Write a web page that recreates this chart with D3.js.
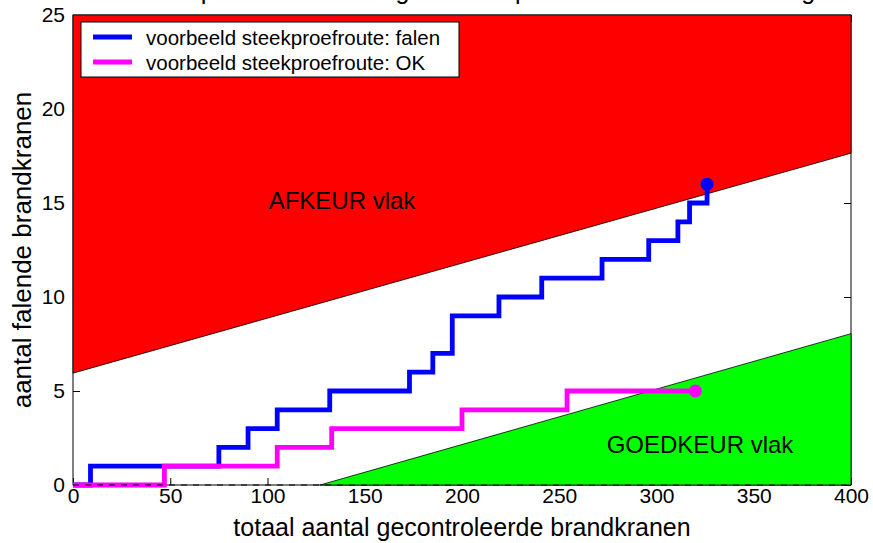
<!DOCTYPE html>
<html><head><meta charset="utf-8">
<script src="https://cdn.jsdelivr.net/npm/d3@7"></script>
<style>
body{margin:0;background:#fff}
svg{display:block}
text{font-family:"Liberation Sans",Arial,Helvetica,sans-serif;fill:#000}
</style></head>
<body><svg id="c" width="873" height="543"></svg>
<script>
// ---- data ----
const xTicks = [0, 50, 100, 150, 200, 250, 300, 350, 400];
const yTicks = [0, 5, 10, 15, 20, 25];
const rejectLine = [[0, 5.95], [400, 17.65]];   // AFKEUR boundary
const acceptLine = [[127, 0], [400, 8.05]];     // GOEDKEUR boundary
const failN = [0, 9, 75, 90, 105, 132, 173, 185, 195, 219, 241, 272, 296, 311, 317, 326];
const failD = [0, 1, 2, 3, 4, 5, 6, 7, 9, 10, 11, 12, 13, 14, 15, 16];
const okN = [0, 47, 105, 133, 200, 254, 320];
const okD = [0, 1, 2, 3, 4, 5, 5];
const seriesNames = ["voorbeeld steekproefroute: falen", "voorbeeld steekproefroute: OK"];
const titleText = "Sequentiële uitvoering via steekproef: brandkranen keuring";
const xLabel = "totaal aantal gecontroleerde brandkranen";
const yLabel = "aantal falende brandkranen";

// ---- layout ----
const L = 73, R = 851, T = 15, B = 485;
const svg = d3.select("#c");
const x = d3.scaleLinear().domain([0, 400]).range([L, R]);
const y = d3.scaleLinear().domain([0, 25]).range([B, T]);
const FONT = "Liberation Sans, Arial, sans-serif";

// title (cut off at the top edge, only descenders visible)
svg.append("text").attr("x", 162).attr("y", -1).attr("text-anchor", "start")
  .style("font-size", "25px").text(titleText);

// axes box
const g = svg.append("g");
g.append("rect").attr("x", L).attr("y", T).attr("width", R - L).attr("height", B - T)
  .attr("fill", "#fff").attr("stroke", "#000").attr("stroke-width", 1);

// inward ticks all four sides
const tl = 7;
g.append("g").attr("transform", `translate(0,${B})`)
  .call(d3.axisBottom(x).tickValues(xTicks).tickSizeInner(-tl).tickSizeOuter(0).tickPadding(3))
  .call(a => { a.select(".domain").remove(); a.selectAll("text").style("font-size", "21px").style("font-family", FONT); });
g.append("g").attr("transform", `translate(0,${T})`)
  .call(d3.axisTop(x).tickValues(xTicks).tickSizeInner(-tl).tickSizeOuter(0).tickFormat(""))
  .call(a => a.select(".domain").remove());
g.append("g").attr("transform", `translate(${L},0)`)
  .call(d3.axisLeft(y).tickValues(yTicks).tickSizeInner(-tl).tickSizeOuter(0).tickPadding(8))
  .call(a => { a.select(".domain").remove(); a.selectAll("text").style("font-size", "21px").style("font-family", FONT); });
g.append("g").attr("transform", `translate(${R},0)`)
  .call(d3.axisRight(y).tickValues(yTicks).tickSizeInner(-tl).tickSizeOuter(0).tickFormat(""))
  .call(a => a.select(".domain").remove());
g.selectAll(".tick line").attr("stroke", "#000");

// regions
const line = d3.line().x(d => x(d[0])).y(d => y(d[1]));
const redPoly = [rejectLine[0], rejectLine[1], [400, 25], [0, 25]];
const greenPoly = [acceptLine[0], acceptLine[1], [400, 0]];
svg.append("path").attr("d", line(redPoly) + "Z").attr("fill", "#ff0000").attr("stroke", "#000").attr("stroke-width", 0.8);
svg.append("path").attr("d", line(greenPoly) + "Z").attr("fill", "#00ff00").attr("stroke", "#000").attr("stroke-width", 0.8);

// step lines
const step = d3.line().x(d => x(d[0])).y(d => y(d[1])).curve(d3.curveStepAfter);
const failPts = failN.map((n, i) => [n, failD[i]]);
const okPts = okN.map((n, i) => [n, okD[i]]);
svg.append("path").attr("d", step(failPts)).attr("fill", "none").attr("stroke", "#0000ff").attr("stroke-width", 4.8);
svg.append("path").attr("d", step(okPts)).attr("fill", "none").attr("stroke", "#ff00ff").attr("stroke-width", 4.8);

// dashed zero line
svg.append("line").attr("x1", x(0)).attr("x2", x(400)).attr("y1", y(0)).attr("y2", y(0))
  .attr("stroke", "#000").attr("stroke-width", 1).attr("stroke-dasharray", "6,6");

// end markers
svg.append("circle").attr("cx", x(failPts[failPts.length - 1][0])).attr("cy", y(failPts[failPts.length - 1][1])).attr("r", 6.5).attr("fill", "#0000ff");
svg.append("circle").attr("cx", x(okPts[okPts.length - 1][0])).attr("cy", y(okPts[okPts.length - 1][1])).attr("r", 6.5).attr("fill", "#ff00ff");

// region labels
svg.append("text").attr("x", 342).attr("y", 209).attr("text-anchor", "middle").style("font-size", "24px").text("AFKEUR vlak");
svg.append("text").attr("x", 700).attr("y", 453).attr("text-anchor", "middle").style("font-size", "24px").text("GOEDKEUR vlak");

// legend
const lg = svg.append("g");
lg.append("rect").attr("x", 81).attr("y", 22).attr("width", 378).attr("height", 55).attr("fill", "#fff").attr("stroke", "#000").attr("stroke-width", 1);
const colors = ["#0000ff", "#ff00ff"];
seriesNames.forEach((s, i) => {
  const yy = 37 + i * 25;
  lg.append("line").attr("x1", 93).attr("x2", 132).attr("y1", yy).attr("y2", yy).attr("stroke", colors[i]).attr("stroke-width", 4.8);
  lg.append("text").attr("x", 146).attr("y", yy + 7.5).style("font-size", "20.5px").text(s);
});

// axis labels
svg.append("text").attr("x", (L + R) / 2).attr("y", 536).attr("text-anchor", "middle").style("font-size", "25px").text(xLabel);
svg.append("text").attr("transform", `translate(31,${(T + B) / 2}) rotate(-90)`).attr("text-anchor", "middle").style("font-size", "26px").text(yLabel);
</script></body></html>
